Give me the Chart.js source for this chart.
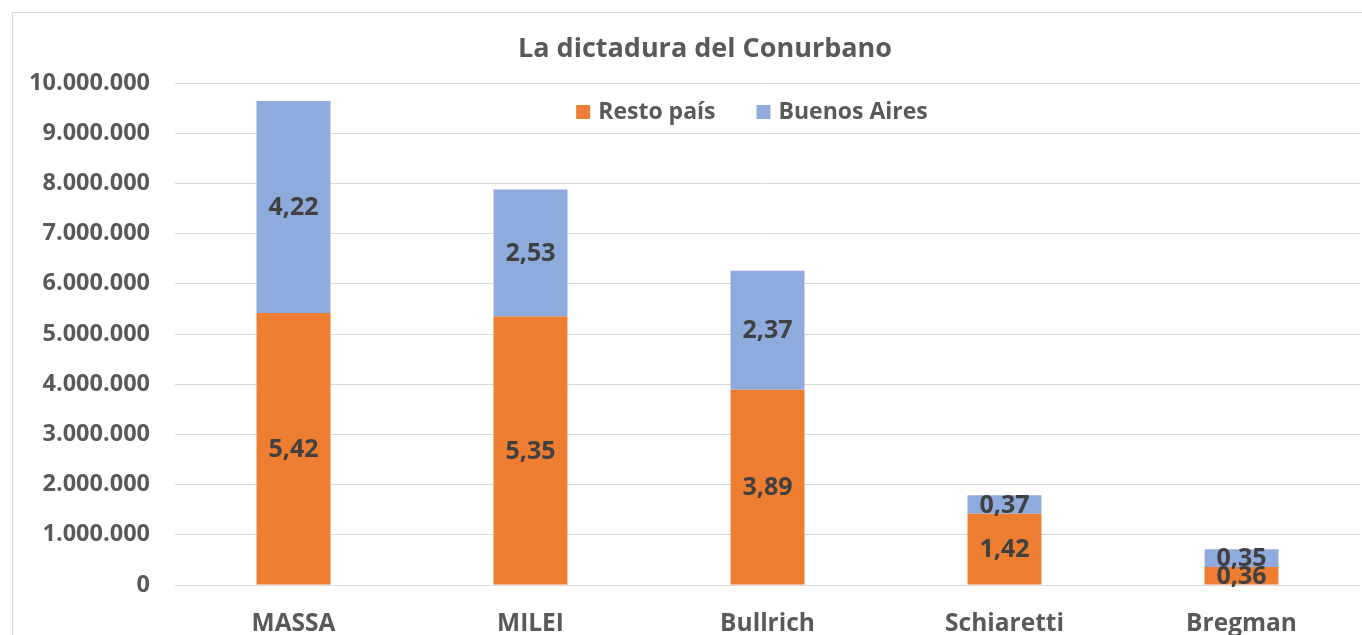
<!DOCTYPE html>
<html>
<head>
<meta charset="utf-8">
<script src="https://cdn.jsdelivr.net/npm/chart.js@4.4.0/dist/chart.umd.min.js"></script>
<style>
  html, body { margin: 0; padding: 0; overflow: hidden; background: #fff; }
  #frame { position: absolute; left: 12px; top: 12px; width: 1420px; height: 700px; border: 1px solid #d9d9d9; }
  #chart { position: absolute; left: 0; top: 0; }
</style>
</head>
<body>
<div id="frame"></div>
<canvas id="chart" width="1400" height="660"></canvas>
<script>
// Data
const candidates = ['MASSA', 'MILEI', 'Bullrich', 'Schiaretti', 'Bregman'];
const restoPais = [5420000, 5350000, 3890000, 1420000, 360000];
const buenosAires = [4220000, 2530000, 2370000, 370000, 350000];
const seriesNames = ['Resto país', 'Buenos Aires'];
const seriesColors = ['#ED7D31', '#8FAADC'];
const chartTitle = 'La dictadura del Conurbano';

const FONT = "'Open Sans', 'Noto Sans', sans-serif";

function miles(v) {
  return String(Math.round(v)).replace(/\B(?=(\d{3})+(?!\d))/g, '.');
}

// value labels in millions inside each segment
const valueLabels = {
  id: 'valueLabels',
  afterDatasetsDraw(chart) {
    const ctx = chart.ctx;
    ctx.save();
    ctx.font = 'bold 25px ' + FONT;
    ctx.fillStyle = '#404040';
    ctx.textAlign = 'center';
    ctx.textBaseline = 'middle';
    chart.data.datasets.forEach((ds, i) => {
      chart.getDatasetMeta(i).data.forEach((bar, j) => {
        const txt = (ds.data[j] / 1e6).toFixed(2).replace('.', ',');
        ctx.fillText(txt, bar.x, (bar.y + bar.base) / 2 + 1);
      });
    });
    ctx.restore();
  }
};

// title and legend drawn over the plot, as in the original
const titleAndLegend = {
  id: 'titleAndLegend',
  afterDraw(chart) {
    const ctx = chart.ctx;
    ctx.save();
    ctx.textBaseline = 'middle';
    ctx.textAlign = 'center';
    ctx.fillStyle = '#595959';
    ctx.font = 'bold 27px ' + FONT;
    ctx.fillText(chartTitle, 705, 49);

    ctx.textAlign = 'left';
    ctx.font = 'bold 23px ' + FONT;
    const box = 14, gap = 8, spacing = 41;
    let total = 0;
    seriesNames.forEach((n, i) => {
      total += box + gap + ctx.measureText(n).width + (i ? 0 : spacing);
    });
    let x = 752 - total / 2;
    const y = 112;
    seriesNames.forEach((n, i) => {
      ctx.fillStyle = seriesColors[i];
      ctx.fillRect(x, y - box / 2, box, box);
      x += box + gap;
      ctx.fillStyle = '#595959';
      ctx.fillText(n, x, y);
      x += ctx.measureText(n).width + spacing;
    });
    ctx.restore();
  }
};

const ctx = document.getElementById('chart').getContext('2d');
new Chart(ctx, {
  type: 'bar',
  data: {
    labels: candidates,
    datasets: [{
      label: seriesNames[0],
      data: restoPais,
      backgroundColor: seriesColors[0],
      barPercentage: 0.312,
      categoryPercentage: 1
    }, {
      label: seriesNames[1],
      data: buenosAires,
      backgroundColor: seriesColors[1],
      barPercentage: 0.312,
      categoryPercentage: 1
    }]
  },
  options: {
    responsive: false,
    animation: false,
    layout: {
      padding: { left: 0, right: 40, top: 83, bottom: 0 }
    },
    plugins: {
      legend: { display: false },
      tooltip: { enabled: false },
      title: { display: false }
    },
    scales: {
      x: {
        stacked: true,
        grid: { display: false },
        border: { display: false },
        ticks: {
          color: '#595959',
          font: { family: FONT, size: 24.5, weight: 'bold' },
          padding: 16
        },
        afterFit(scale) { scale.height = 75; }
      },
      y: {
        stacked: true,
        min: 0,
        max: 10000000,
        grid: { color: '#d9d9d9', drawTicks: false },
        border: { display: false },
        ticks: {
          stepSize: 1000000,
          color: '#595959',
          font: { family: FONT, size: 23.5, weight: 'bold' },
          padding: 25,
          callback: (v) => miles(v)
        },
        afterFit(scale) { scale.width = 175; }
      }
    }
  },
  plugins: [valueLabels, titleAndLegend]
});
</script>
</body>
</html>
